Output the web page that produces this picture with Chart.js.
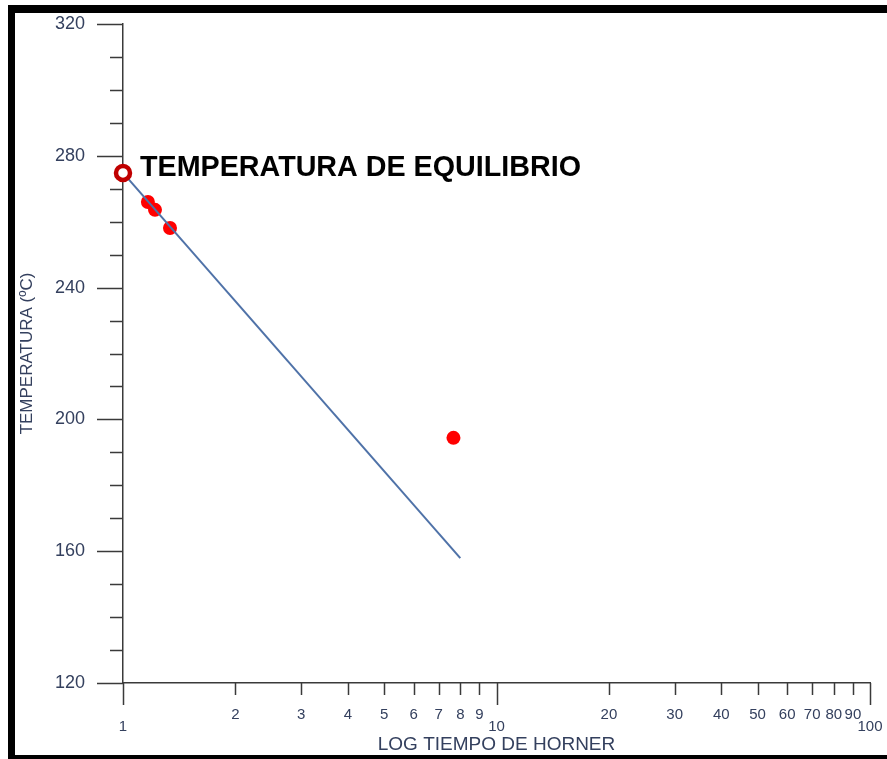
<!DOCTYPE html>
<html>
<head>
<meta charset="utf-8">
<script src="https://cdn.jsdelivr.net/npm/chart.js@4.4.1/dist/chart.umd.min.js"></script>
<style>
  html, body { margin: 0; padding: 0; background: #fff; }
  #wrap { width: 887px; height: 759px; }
</style>
</head>
<body>
<div id="wrap"><canvas id="horner" width="887" height="759"></canvas></div>
<script>
//DATA
const xTickValues = [1, 2, 3, 4, 5, 6, 7, 8, 9, 10, 20, 30, 40, 50, 60, 70, 80, 90, 100];
const xMajorValues = [1, 10, 100];
const yTickValues = [120, 130, 140, 150, 160, 170, 180, 190, 200, 210, 220, 230, 240, 250, 260, 270, 280, 290, 300, 310, 320];

const measuredX = [1.166, 1.218, 1.336, 7.67];
const measuredY = [266.0, 263.6, 258.1, 194.4];

const trendX = [1, 8];
const trendY = [274.8, 157.9];

const equilibriumX = 1;
const equilibriumY = 274.8;
const equilibriumLabel = 'TEMPERATURA DE EQUILIBRIO';

const xTitle = 'LOG TIEMPO DE HORNER';
const yTitle = 'TEMPERATURA (ºC)';

//STYLE
const labelColor = '#34405e';
const axisColor = '#3a3a3a';
const fontFamily = '"Liberation Sans", Arial, sans-serif';

function ToPoints(_xs, _ys){
    return _xs.map((x, i) => ({x: x, y: _ys[i]}));
}

//PLUGINS
const pageFrame = {
    id: 'pageFrame',
    beforeDraw(chart){
        const ctx = chart.ctx;
        ctx.save();
        ctx.fillStyle = '#fff';
        ctx.fillRect(0, 0, chart.width, chart.height);
        ctx.fillStyle = '#000';
        ctx.fillRect(8, 5, 7, chart.height - 5);
        ctx.fillRect(8, 5, chart.width - 8, 8);
        ctx.fillRect(8, 755, chart.width - 8, 4);
        ctx.restore();
    }
};

const tickMarks = {
    id: 'tickMarks',
    afterDraw(chart){
        const ctx = chart.ctx;
        const x = chart.scales.x;
        const y = chart.scales.y;
        ctx.save();
        ctx.strokeStyle = axisColor;
        ctx.lineWidth = 1.5;
        ctx.beginPath();
        yTickValues.forEach(v => {
            const py = Math.round(y.getPixelForValue(v)) + 0.5;
            const len = v % 40 === 0 ? 26 : 13;
            ctx.moveTo(x.left - len, py);
            ctx.lineTo(x.left, py);
        });
        xTickValues.forEach(v => {
            const px = Math.round(x.getPixelForValue(v)) + 0.5;
            const len = xMajorValues.includes(v) ? 22 : 12;
            ctx.moveTo(px, y.bottom);
            ctx.lineTo(px, y.bottom + len);
        });
        ctx.stroke();
        ctx.restore();
    }
};

const equilibriumText = {
    id: 'equilibriumText',
    afterDatasetsDraw(chart){
        const ctx = chart.ctx;
        const px = chart.scales.x.getPixelForValue(equilibriumX);
        const py = chart.scales.y.getPixelForValue(equilibriumY);
        ctx.save();
        ctx.fillStyle = '#000';
        ctx.font = 'bold 28.7px ' + fontFamily;
        ctx.textAlign = 'left';
        ctx.textBaseline = 'middle';
        ctx.fillText(equilibriumLabel, px + 17, py - 5);
        ctx.restore();
    }
};

//CHART
const chart_data = {
    datasets: [
        {
            type: 'scatter',
            label: 'Equilibrio',
            data: ToPoints([equilibriumX], [equilibriumY]),
            pointRadius: 7,
            borderWidth: 4.5,
            borderColor: '#c00000',
            backgroundColor: '#ffffff',
            clip: false
        },
        {
            type: 'line',
            label: 'Tendencia',
            data: ToPoints(trendX, trendY),
            borderColor: '#4f72a8',
            borderWidth: 2,
            pointRadius: 0,
            fill: false,
            clip: false
        },
        {
            type: 'scatter',
            label: 'Medidas',
            data: ToPoints(measuredX, measuredY),
            pointRadius: 7,
            borderWidth: 0,
            backgroundColor: '#ff0000',
            clip: false
        }
    ]
};

const config = {
    type: 'scatter',
    data: chart_data,
    options: {
        responsive: false,
        animation: false,
        layout: { padding: { top: 24, right: 17, bottom: 0, left: 0 } },
        plugins: {
            legend: { display: false },
            tooltip: { enabled: false }
        },
        scales: {
            x: {
                type: 'logarithmic',
                min: 1,
                max: 100,
                afterBuildTicks: scale => {
                    scale.ticks = xTickValues.map(v => ({value: v, major: xMajorValues.includes(v)}));
                },
                afterFit: scale => {
                    scale.height = 76;
                    scale.paddingLeft = 0;
                    scale.paddingRight = 0;
                },
                grid: { display: false },
                border: { display: true, color: axisColor, width: 1.5 },
                ticks: {
                    autoSkip: false,
                    maxRotation: 0,
                    padding: 18,
                    color: labelColor,
                    font: { family: fontFamily, size: 15, lineHeight: 0.8 },
                    callback: v => xMajorValues.includes(v) ? ['', String(v)] : String(v)
                },
                title: {
                    display: true,
                    text: xTitle,
                    color: labelColor,
                    font: { family: fontFamily, size: 19 },
                    padding: { top: 0, bottom: 3 }
                }
            },
            y: {
                min: 120,
                max: 320,
                afterFit: scale => {
                    scale.width = 123;
                    scale.paddingTop = 0;
                    scale.paddingBottom = 0;
                },
                grid: { display: false },
                border: { display: true, color: axisColor, width: 1.5 },
                ticks: {
                    stepSize: 10,
                    autoSkip: false,
                    padding: 30,
                    color: labelColor,
                    font: { family: fontFamily, size: 18 },
                    callback: v => v % 40 === 0 ? String(v) : ''
                },
                title: {
                    display: true,
                    text: yTitle,
                    color: labelColor,
                    font: { family: fontFamily, size: 17 },
                    padding: { top: 17, bottom: 0 }
                }
            }
        }
    },
    plugins: [pageFrame, tickMarks, equilibriumText]
};

const hornerChart = new Chart(document.querySelector('#horner'), config);
</script>
</body>
</html>
